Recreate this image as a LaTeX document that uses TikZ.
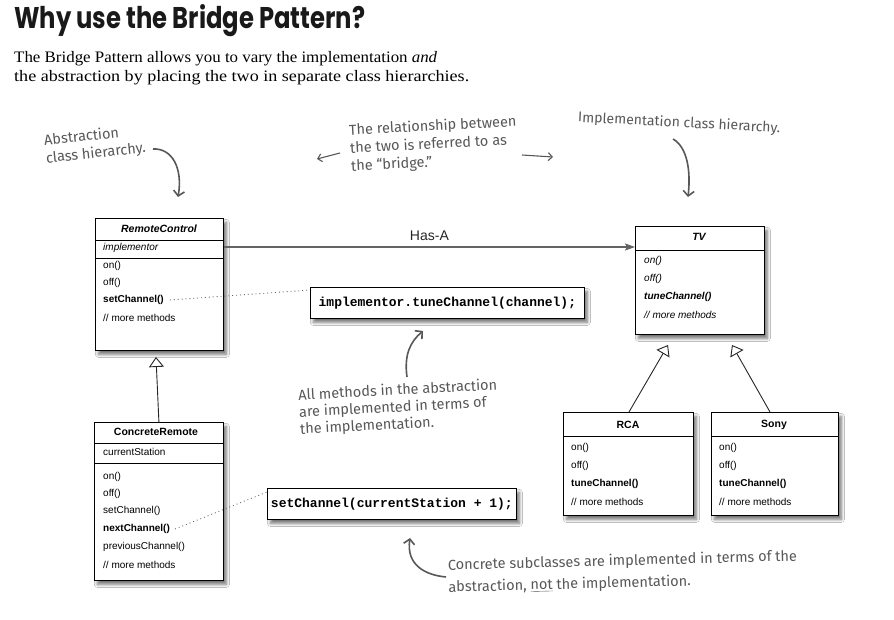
\documentclass[tikz,border=0pt]{standalone}
\usepackage{fontspec}
\usepackage{graphicx}
\setmainfont{Liberation Serif}
\setsansfont{Liberation Sans}
\setmonofont{Liberation Mono}
\newfontfamily\handfont{Fira Sans}
\newfontfamily\titlefont{Poppins}
\usetikzlibrary{arrows.meta,calc,shadows.blur}
\definecolor{hand}{HTML}{585858}
\definecolor{hasa}{HTML}{646464}
\begin{document}
\begin{tikzpicture}[x=1pt,y=-1pt,
  box/.style={draw=black, line width=0.8pt, fill=white, inner sep=0pt, anchor=north west,
    blur shadow={shadow xshift=3pt,shadow yshift=-4pt,shadow blur radius=3pt,shadow blur steps=8,shadow opacity=55}},
  sepline/.style={draw=black, line width=0.8pt},
  member/.style={anchor=west, inner sep=0pt, font=\sffamily\fontsize{10}{11}\selectfont},
  ctitle/.style={inner sep=0pt, font=\sffamily\bfseries\fontsize{10.5}{11}\selectfont},
  codebox/.style={box, anchor=north west, font=\ttfamily\bfseries\fontsize{13}{14}\selectfont, minimum height=31pt},
  note/.style={text=hand, font=\handfont\fontsize{14.5}{18}\selectfont, align=left, inner sep=0pt, anchor=west},
  handarrow/.style={draw=hand, line width=1.6pt, -{Straight Barb[length=5pt,width=11pt]}},
  smallarrow/.style={draw=hand, line width=1.1pt, -{Straight Barb[length=4pt,width=8pt]}},
  inherit/.style={draw=black!85, line width=0.9pt, -{Triangle[open,length=10pt,width=15pt,fill=white]}},
  hasaline/.style={draw=hasa, line width=1.8pt, -{Stealth[length=10pt,width=7pt,inset=2pt]}},
  dotline/.style={draw=black!60, line width=0.9pt, dash pattern=on 0.9pt off 3pt}
]
\fill[white] (0,0) rectangle (894,620);
\useasboundingbox (0,0) rectangle (894,620);

% title and intro
\node[anchor=base west, inner sep=0pt, text=black!90] (title) at (14,29)
  {\resizebox{351pt}{24pt}{\titlefont\bfseries Why use the Bridge Pattern?}};
\node[anchor=base west, inner sep=0pt, font=\fontsize{16}{19}\selectfont] (sub1) at (14,63)
  {\resizebox{423pt}{\height}{The Bridge Pattern allows you to vary the implementation \textit{and}}};
\node[anchor=base west, inner sep=0pt, font=\fontsize{16}{19}\selectfont] (sub2) at (14,82)
  {\resizebox{455pt}{\height}{the abstraction by placing the two in separate class hierarchies.}};

% RemoteControl
\node[box, minimum width=128pt, minimum height=132pt] (rc) at (95,218) {};
\draw[sepline] (95,240) -- (223,240);
\draw[sepline] (95,258) -- (223,258);
\node[ctitle, font=\sffamily\bfseries\itshape\fontsize{10.5}{11}\selectfont] (rct) at (159,229) {RemoteControl};
\node[member] (rci) at (103,248) {\itshape implementor};
\node[member] (rc1) at (103,266) {on()};
\node[member] (rc2) at (103,283) {off()};
\node[member] (rc3) at (103,300) {\bfseries setChannel()};
\node[member] (rc4) at (103,318) {// more methods};

% TV
\node[box, minimum width=129pt, minimum height=108pt] (tv) at (635,226) {};
\draw[sepline] (635,250) -- (764,250);
\node[ctitle, font=\sffamily\bfseries\itshape\fontsize{10.5}{11}\selectfont] (tvt) at (699,237) {TV};
\node[member] (tv1) at (644,261) {\itshape on()};
\node[member] (tv2) at (644,279) {\itshape off()};
\node[member] (tv3) at (644,297) {\bfseries\itshape tuneChannel()};
\node[member] (tv4) at (644,315) {\itshape // more methods};

% RCA
\node[box, minimum width=130pt, minimum height=103pt] (rca) at (563,412) {};
\draw[sepline] (563,436) -- (693,436);
\node[ctitle] (rcat) at (628,425) {RCA};
\node[member] (rca1) at (571,448) {on()};
\node[member] (rca2) at (571,466) {off()};
\node[member] (rca3) at (571,484) {\bfseries tuneChannel()};
\node[member] (rca4) at (571,502) {// more methods};

% Sony
\node[box, minimum width=127pt, minimum height=103pt] (sony) at (711,412) {};
\draw[sepline] (711,436) -- (838,436);
\node[ctitle] (sonyt) at (774,425) {Sony};
\node[member] (sony1) at (719,448) {on()};
\node[member] (sony2) at (719,466) {off()};
\node[member] (sony3) at (719,484) {\bfseries tuneChannel()};
\node[member] (sony4) at (719,502) {// more methods};

% ConcreteRemote
\node[box, minimum width=129pt, minimum height=158pt] (cr) at (94,422) {};
\draw[sepline] (94,443) -- (223,443);
\draw[sepline] (94,463) -- (223,463);
\node[ctitle] (crt) at (156,432) {ConcreteRemote};
\node[member] (crs) at (103,452) {currentStation};
\node[member] (cr1) at (103,477) {on()};
\node[member] (cr2) at (103,494) {off()};
\node[member] (cr3) at (103,511) {setChannel()};
\node[member] (cr4) at (103,529) {\bfseries nextChannel()};
\node[member] (cr5) at (103,547) {previousChannel()};
\node[member] (cr6) at (103,565) {// more methods};

% code boxes
\node[codebox, minimum width=274pt] (code1) at (310,287) {implementor.tuneChannel(channel);};
\node[codebox, minimum width=249pt] (code2) at (267,488) {setChannel(currentStation + 1);};

% connectors
\draw[hasaline] ($(rc.north east)+(0,29)$) -- node[above=2pt, font=\sffamily\fontsize{14}{15}\selectfont, text=black!85] (hasalbl) {Has-A} ($(tv.north west)+(0,21)$);
\coordinate (rctip) at (156,357);
\draw[inherit] (cr.north) -- (rctip);
\coordinate (tvtipa) at (668,345);
\coordinate (tvtipb) at (732,345);
\draw[inherit] ($(rca.north west)+(66,0)$) -- (tvtipa);
\draw[inherit] ($(sony.north west)+(59,0)$) -- (tvtipb);
\draw[dotline] ($(rc3.east)+(6,0)$) -- ($(code1.north west)+(0,3)$);
\draw[dotline] ($(cr4.east)+(5,0)$) -- ($(code2.north west)+(0,4)$);

% annotations
\node[note, rotate=6] (noteabs) at (45,150) {Abstraction\\ class hierarchy.};
\coordinate (abs1) at (153,149);
\coordinate (abs2) at (178,197);
\draw[handarrow] (abs1) .. controls (172,148) and (183,168) .. (abs2);

\node[note, rotate=3] (notebridge) at (350,149) {The relationship between\\the two is referred to as\\the “bridge.”};
\coordinate (bl1) at (340,153);
\coordinate (bl2) at (317,159);
\draw[smallarrow] (bl1) -- (bl2);
\coordinate (br1) at (522,155);
\coordinate (br2) at (553,157);
\draw[smallarrow] (br1) -- (br2);

\node[note, rotate=-3, font=\handfont\fontsize{14}{18}\selectfont] (noteimpl) at (578,118) {Implementation class hierarchy.};
\coordinate (im1) at (673,139);
\coordinate (im2) at (688,197);
\draw[handarrow] (im1) .. controls (687,147) and (691,170) .. (im2);

\node[note, rotate=3, font=\handfont\fontsize{14.5}{17}\selectfont] (noteall) at (299,413) {All methods in the abstraction\\are implemented in terms of\\the implementation.};
\coordinate (al1) at (407,377);
\coordinate (al2) at (423,331);
\draw[handarrow] (al1) .. controls (404,355) and (410,342) .. (al2);

\node[note, rotate=1.5, font=\handfont\fontsize{14.5}{22}\selectfont] (noteconc) at (448,577) {Concrete subclasses are implemented in terms of the\\abstraction, \underline{not} the implementation.};
\coordinate (co1) at (446,577);
\coordinate (co2) at (410,538);
\draw[handarrow] (co1) .. controls (425,575) and (406,565) .. (co2);
\end{tikzpicture}
\end{document}
